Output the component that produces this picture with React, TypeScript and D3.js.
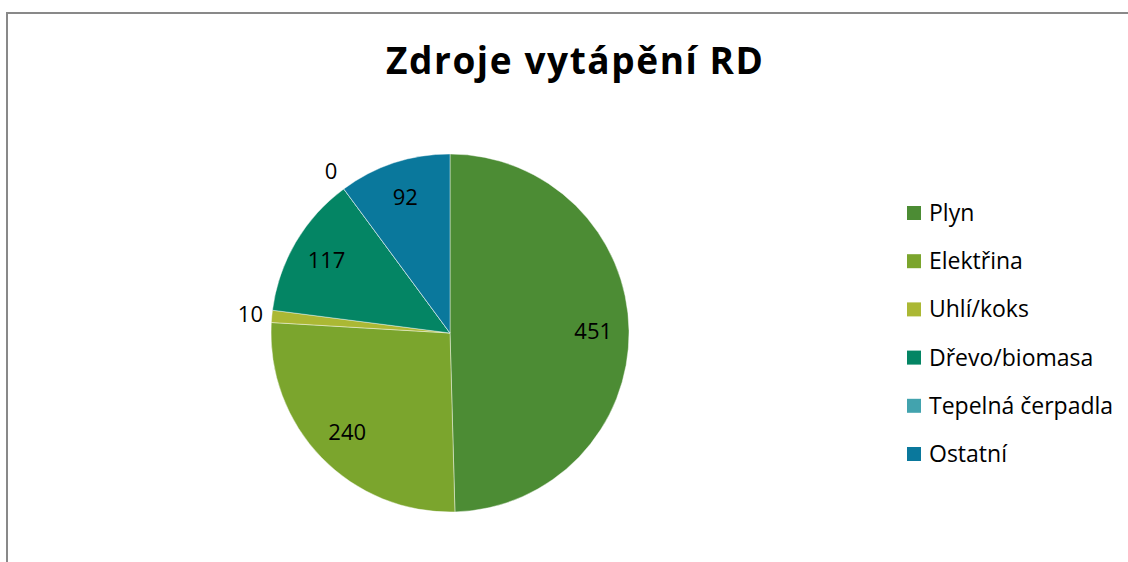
import React from "react";
import * as d3 from "d3";

const categories = ["Plyn", "Elektřina", "Uhlí/koks", "Dřevo/biomasa", "Tepelná čerpadla", "Ostatní"];
const values = [451, 240, 10, 117, 0, 92];
const colors = ["#4c8c34", "#7ba52d", "#abb834", "#048564", "#42a3ae", "#0a789c"];
const outsideLabel = [false, false, true, false, true, false];
const title = "Zdroje vytápění RD";

const W = 1128;
const H = 562;
const cx = 450;
const cy = 333;
const R = 179;
const FONT = "'Open Sans', sans-serif";

export default function App() {
  const data = categories.map((c, i) => ({ name: c, value: values[i], color: colors[i], outside: outsideLabel[i] }));
  const pie = d3.pie<any>().sort(null).value((d: any) => d.value);
  const arcs = pie(data);
  const arc = d3.arc<any>().innerRadius(0).outerRadius(R);
  const inLabel = d3.arc<any>().innerRadius(R * 0.8).outerRadius(R * 0.8);
  const outLabel = d3.arc<any>().innerRadius(R * 1.12).outerRadius(R * 1.12);
  const legendY = d3.scalePoint<string>().domain(categories).range([213, 454]);

  return (
    <svg width={W} height={H} style={{ position: "absolute", left: 0, top: 0 }}>
      <rect x={0} y={0} width={W} height={H} fill="#ffffff" />
      <rect x={7} y={13} width={W + 20} height={H + 20} fill="#ffffff" stroke="#898989" strokeWidth={2} />
      <text x={386} y={74} textLength={377} lengthAdjust="spacing" fontFamily={FONT} fontWeight={700} fontSize={37} fill="#000">
        {title}
      </text>
      <g transform={`translate(${cx},${cy})`}>
        {arcs.map((a, i) => (
          <path key={i} d={arc(a) || ""} fill={a.data.color} stroke="#ffffff" strokeWidth={0.6} strokeOpacity={0.7} />
        ))}
        {arcs.map((a, i) => {
          const [x, y] = (a.data.outside ? outLabel : inLabel).centroid(a);
          return (
            <text key={"l" + i} x={x} y={y} dy="0.35em" textAnchor="middle" fontFamily={FONT} fontSize={22} fill="#000">
              {a.data.value}
            </text>
          );
        })}
      </g>
      <g>
        {data.map((d, i) => {
          const y = legendY(d.name) as number;
          return (
            <g key={"g" + i}>
              <rect x={907} y={y - 7} width={14} height={14} fill={d.color} />
              <text x={929} y={y} dy="0.35em" fontFamily={FONT} fontSize={23} fill="#000">
                {d.name}
              </text>
            </g>
          );
        })}
      </g>
    </svg>
  );
}
